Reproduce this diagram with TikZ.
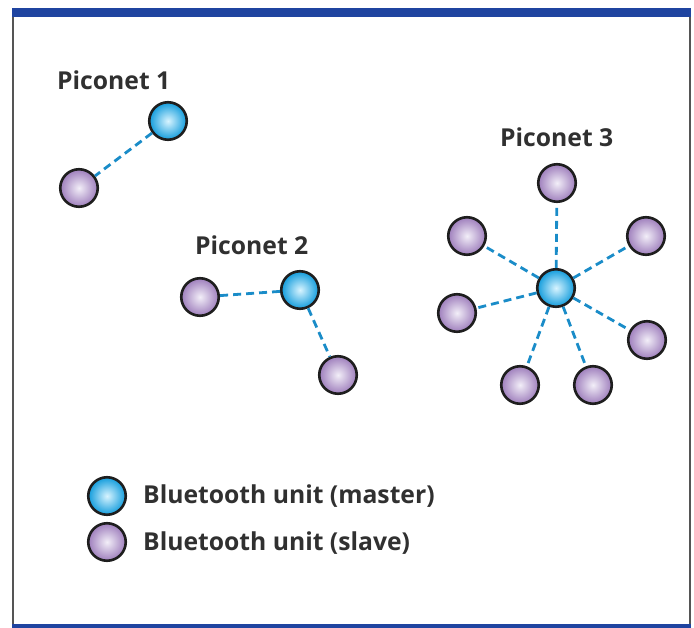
\documentclass[tikz,border=0pt]{standalone}
\usepackage{fontspec}
\setmainfont{Open Sans}
\definecolor{barblue}{HTML}{1F44A0}
\definecolor{framegray}{HTML}{555555}
\definecolor{txt}{HTML}{303030}
\definecolor{outl}{HTML}{1E1E1E}
\definecolor{mastin}{HTML}{D8F4FF}
\definecolor{mastout}{HTML}{129CDC}
\definecolor{slavin}{HTML}{F2EEF8}
\definecolor{slavout}{HTML}{9E7EBC}
\definecolor{linkc}{HTML}{1A8CC8}
\tikzset{
  unit/.style={circle, draw=outl, line width=2.6pt, minimum size=37.5pt, inner sep=0pt},
  master/.style={unit, inner color=mastin, outer color=mastout},
  slave/.style={unit, inner color=slavin, outer color=slavout},
  link/.style={draw=linkc, line width=2.8pt, dash pattern=on 8pt off 5pt},
  lbl/.style={anchor=base west, inner sep=0pt, text=txt, font=\fontsize{24.7}{29}\selectfont\bfseries}
}
\begin{document}
\begin{tikzpicture}[x=1pt,y=-1pt]
\useasboundingbox (0,0) rectangle (694,628);
% frame
\fill[barblue] (12,8) rectangle (691,17);
\fill[barblue] (12,624) rectangle (691,628);
\draw[framegray, line width=1.5pt] (13,17) -- (13,624);
\draw[framegray, line width=1.5pt] (690,17) -- (690,624);
% labels
\node[lbl] (l1) at (57,90) {Piconet 1};
\node[lbl] (l2) at (195,255) {Piconet 2};
\node[lbl] (l3) at (500,147) {Piconet 3};
% piconet 1
\node[master] (m1) at (168,121) {};
\node[slave] (s11) at (79,188) {};
\draw[link] (m1) -- (s11);
% piconet 2
\node[master] (m2) at (300,290) {};
\node[slave] (s21) at (200,297) {};
\node[slave] (s22) at (338,375) {};
\draw[link] (m2) -- (s21);
\draw[link] (m2) -- (s22);
% piconet 3
\node[master] (m3) at (556,288) {};
\node[slave] (s31) at (557,183) {};
\node[slave] (s32) at (467,236) {};
\node[slave] (s33) at (646,236) {};
\node[slave] (s34) at (457,313) {};
\node[slave] (s35) at (647,340) {};
\node[slave] (s36) at (520,385) {};
\node[slave] (s37) at (593,385) {};
\foreach \s in {s31,s32,s33,s34,s35,s36,s37} \draw[link] (m3) -- (\s);
% legend
\node[master] (lm) at (107,496) {};
\node[slave] (ls) at (107,542) {};
\node[lbl] (tm) at (143,503) {Bluetooth unit (master)};
\node[lbl] (ts) at (143,550) {Bluetooth unit (slave)};
\end{tikzpicture}
\end{document}
